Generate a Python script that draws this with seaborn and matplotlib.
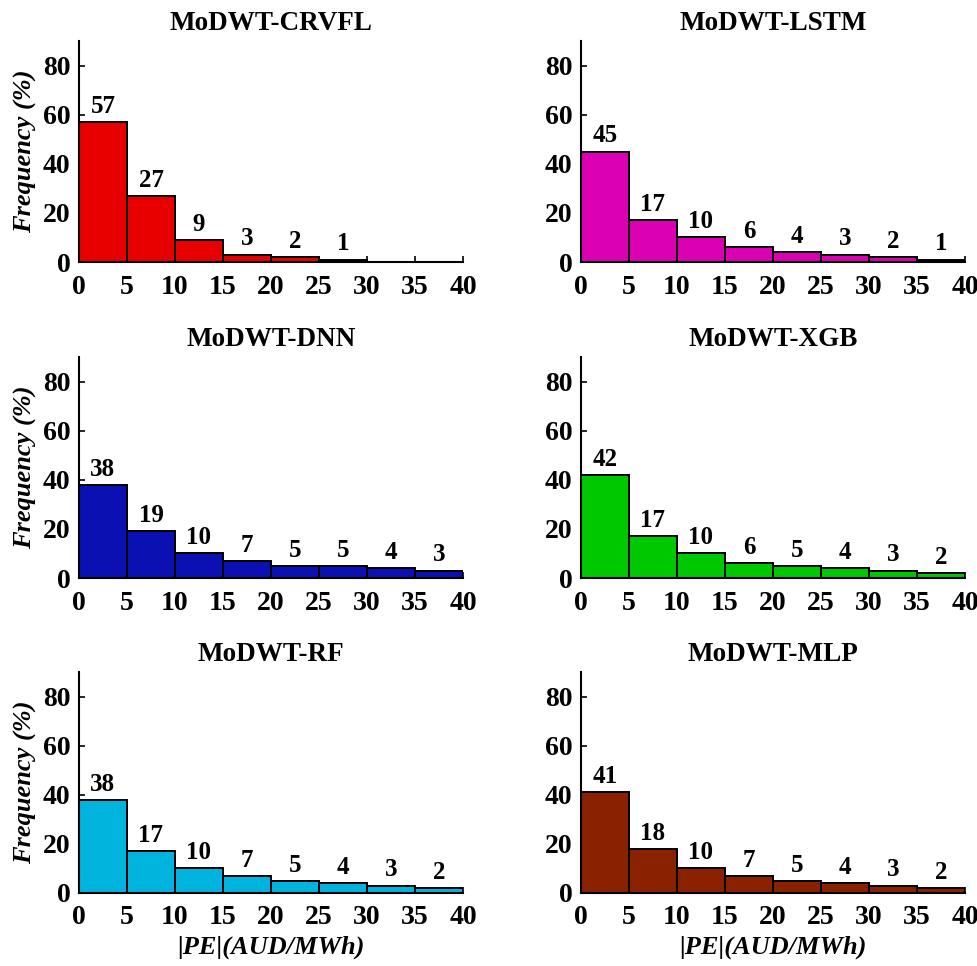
import numpy as np
import pandas as pd
import matplotlib
matplotlib.use("Agg")
import matplotlib.pyplot as plt
import seaborn as sns

# ---- data ----
bin_edges = [0, 5, 10, 15, 20, 25, 30, 35, 40]
x_ticks = [0, 5, 10, 15, 20, 25, 30, 35, 40]
y_ticks = [0, 20, 40, 60, 80]

models = ["MoDWT-CRVFL", "MoDWT-LSTM", "MoDWT-DNN", "MoDWT-XGB", "MoDWT-RF", "MoDWT-MLP"]
crvfl = [57, 27, 9, 3, 2, 1, 0, 0]
lstm = [45, 17, 10, 6, 4, 3, 2, 1]
dnn = [38, 19, 10, 7, 5, 5, 4, 3]
xgb = [42, 17, 10, 6, 5, 4, 3, 2]
rf = [38, 17, 10, 7, 5, 4, 3, 2]
mlp = [41, 18, 10, 7, 5, 4, 3, 2]
series = [crvfl, lstm, dnn, xgb, rf, mlp]
colors = ["#e80000", "#dc00b4", "#0a10b2", "#00c800", "#00b4de", "#8a2202"]

sns.set_theme(style="ticks")
plt.rcParams["font.family"] = ["Liberation Serif", "DejaVu Serif"]
plt.rcParams["font.weight"] = "bold"
plt.rcParams["text.color"] = "black"
plt.rcParams["axes.labelcolor"] = "black"
plt.rcParams["xtick.color"] = "black"
plt.rcParams["ytick.color"] = "black"
plt.rcParams["axes.edgecolor"] = "black"

fig = plt.figure(figsize=(9.78, 9.66), dpi=100)
W, H = 978, 966
lefts = [79, 581]
bottoms = [262, 578, 893]
aw, ah = 384, 221

centers = [(bin_edges[i] + bin_edges[i + 1]) / 2 for i in range(len(bin_edges) - 1)]

for k, (name, vals, col) in enumerate(zip(models, series, colors)):
    r, c = divmod(k, 2)
    ax = fig.add_axes([lefts[c] / W, 1 - bottoms[r] / H, aw / W, ah / H])
    df = pd.DataFrame({"x": centers, "w": vals})
    sns.histplot(data=df, x="x", weights="w", bins=bin_edges, stat="count",
                 color=col, alpha=1, edgecolor="black", linewidth=1.4, ax=ax)
    labels = [str(v) if v > 0 else "" for v in vals]
    ax.bar_label(ax.containers[0], labels=labels, padding=3,
                 fontsize=18, fontweight="bold", color="black")
    ax.set_xlim(0, 40)
    ax.set_ylim(0, 90)
    ax.set_xticks(x_ticks)
    ax.set_yticks(y_ticks)
    ax.tick_params(direction="in", length=4, width=1.2, labelsize=20,
                   colors="black")
    ax.tick_params(axis="x", pad=9)
    ax.tick_params(axis="y", pad=6)
    for lab in ax.get_xticklabels() + ax.get_yticklabels():
        lab.set_fontweight("bold")
    sns.despine(ax=ax)
    for s in ["left", "bottom"]:
        ax.spines[s].set_linewidth(1.5)
        ax.spines[s].set_color("black")
    ax.set_title(name, fontsize=19.5, fontweight="bold", pad=8, color="black")
    if c == 0:
        ax.set_ylabel("Frequency (%)", fontsize=19, fontweight="bold",
                      fontstyle="italic", labelpad=4, color="black")
    else:
        ax.set_ylabel("")
    if r == 2:
        ax.set_xlabel("|PE|(AUD/MWh)", fontsize=19, fontweight="bold",
                      fontstyle="italic", labelpad=4, color="black")
    else:
        ax.set_xlabel("")

fig.savefig("out.png", dpi=100, facecolor="white")
